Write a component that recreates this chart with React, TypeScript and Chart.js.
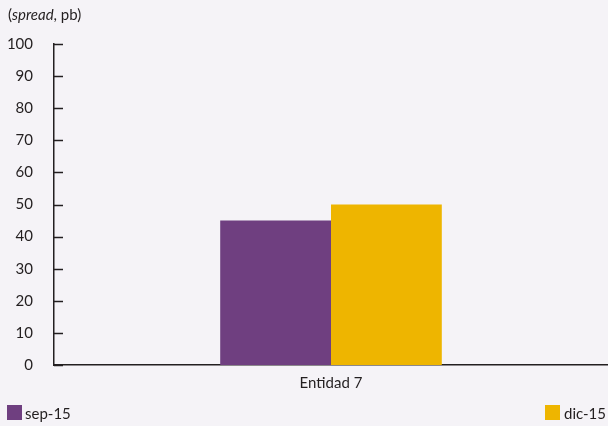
import React, { useEffect, useRef } from "react";
import { Chart, registerables } from "chart.js";

Chart.register(...registerables);

const categories = ["Entidad 7"];
const seriesNames = ["sep-15", "dic-15"];
const sepValues = [45];
const dicValues = [50];
const seriesColors = ["#6f3f80", "#eeb500"];
const yTicks = [0, 10, 20, 30, 40, 50, 60, 70, 80, 90, 100];
const yTitleParts = ["(", "spread", ", pb)"];

const FONT = "Lato, 'Open Sans', sans-serif";
const TEXT = "#231f20";
const BG = "#f5f3f7";

const decorPlugin = {
  id: "decor",
  beforeDraw(chart: any) {
    const { ctx, width, height } = chart;
    ctx.save();
    ctx.fillStyle = BG;
    ctx.fillRect(0, 0, width, height);
    ctx.restore();
  },
  afterDraw(chart: any) {
    const { ctx } = chart;
    const y = chart.scales.y;
    ctx.save();
    // inward tick marks
    ctx.strokeStyle = TEXT;
    ctx.lineWidth = 1.5;
    yTicks.forEach((v) => {
      const py = Math.round(y.getPixelForValue(v)) + 0.5;
      ctx.beginPath();
      ctx.moveTo(y.right, py);
      ctx.lineTo(y.right + 9, py);
      ctx.stroke();
    });
    // title
    ctx.fillStyle = TEXT;
    ctx.textBaseline = "alphabetic";
    let x = 8;
    yTitleParts.forEach((p, i) => {
      ctx.font = (i === 1 ? "italic " : "") + "15px " + FONT;
      ctx.fillText(p, x, 20);
      x += ctx.measureText(p).width;
    });
    // legend
    ctx.font = "15px " + FONT;
    const ds = chart.data.datasets;
    ctx.fillStyle = ds[0].backgroundColor;
    ctx.fillRect(7, 405, 15, 15);
    ctx.fillStyle = TEXT;
    ctx.textAlign = "left";
    ctx.fillText(ds[0].label, 25, 419);
    const w = ctx.measureText(ds[1].label).width;
    ctx.fillStyle = ds[1].backgroundColor;
    ctx.fillRect(545, 405, 15, 15);
    ctx.fillStyle = TEXT;
    ctx.fillText(ds[1].label, 606 - w, 419);
    ctx.restore();
  },
};

export default function App() {
  const ref = useRef<HTMLCanvasElement>(null);
  useEffect(() => {
    document.body.style.margin = "0";
    const chart = new Chart(ref.current!, {
      type: "bar",
      data: {
        labels: categories,
        datasets: [
          { label: seriesNames[0], data: sepValues, backgroundColor: seriesColors[0] },
          { label: seriesNames[1], data: dicValues, backgroundColor: seriesColors[1] },
        ],
      },
      plugins: [decorPlugin],
      options: {
        animation: false,
        responsive: false,
        devicePixelRatio: 1,
        layout: { padding: { top: 44, bottom: 25, left: 0, right: 0 } },
        plugins: { legend: { display: false }, tooltip: { enabled: false } },
        datasets: { bar: { categoryPercentage: 0.4, barPercentage: 1.0 } },
        scales: {
          x: {
            grid: { display: false, drawTicks: false },
            border: { display: true, color: TEXT, width: 1.5 },
            ticks: { color: TEXT, font: { family: FONT, size: 15 }, padding: 9 },
          },
          y: {
            min: 0,
            max: 100,
            afterFit(scale: any) {
              scale.width = 54;
            },
            afterBuildTicks(scale: any) {
              scale.ticks = yTicks.map((v) => ({ value: v }));
            },
            grid: { display: false, drawTicks: false },
            border: { display: true, color: TEXT, width: 1.5 },
            ticks: { color: TEXT, font: { family: FONT, size: 15 }, padding: 21 },
          },
        },
      },
    });
    return () => chart.destroy();
  }, []);
  return <canvas ref={ref} width={608} height={426} style={{ display: "block" }} />;
}
